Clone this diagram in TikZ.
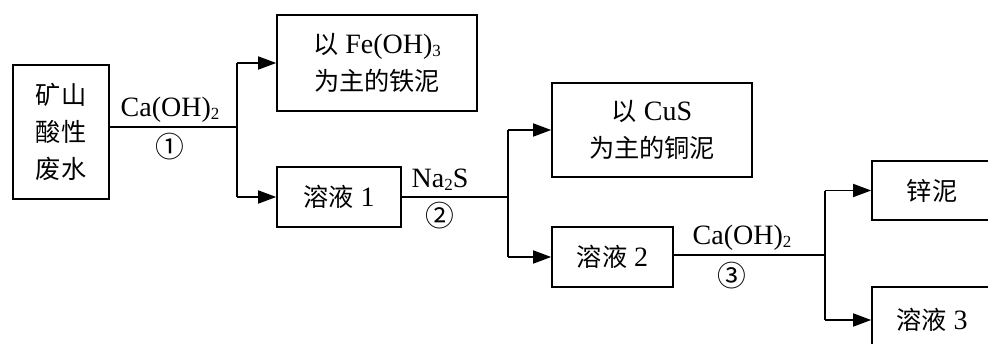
\documentclass[tikz,border=0pt]{standalone}
\usepackage{fontspec}
\setmainfont{Liberation Serif}
\newfontfamily\cjk[Scale=0.9]{Noto Sans CJK SC}
\usetikzlibrary{arrows.meta}
\newcommand{\sub}[1]{\raisebox{-0.25ex}{\fontsize{17}{17}\selectfont #1}}
\begin{document}
\begin{tikzpicture}[x=1pt,y=-1pt,
  box/.style={draw,line width=1.6pt,inner sep=0pt,align=center,font=\fontsize{28}{37}\selectfont},
  lbl/.style={inner sep=0pt,font=\fontsize{28}{30}\selectfont},
  circ/.style={inner sep=0pt,font=\fontsize{32}{32}\selectfont\cjk},
  flow/.style={line width=1.6pt},
  arr/.style={line width=1.6pt,-{Triangle[length=18pt,width=13pt]}}]
\clip (0,0) rectangle (988,343);
\node[box,minimum width=96pt,minimum height=134pt] (src) at (61,132) {\cjk 矿山\\\cjk 酸性\\\cjk 废水};
\node[box,minimum width=200pt,minimum height=96pt] (fe) at (377,63) {{\cjk 以} Fe(OH)\sub{3}\\\cjk 为主的铁泥};
\node[box,minimum width=124pt,minimum height=60pt] (s1) at (339,197) {{\cjk 溶液} 1};
\node[box,minimum width=200pt,minimum height=94pt] (cu) at (652,130) {{\cjk 以} CuS\\\cjk 为主的铜泥};
\node[box,minimum width=121pt,minimum height=60pt] (s2) at (612.5,257) {{\cjk 溶液} 2};
\node[box,minimum width=120pt,minimum height=59pt] (zn) at (932,190.5) {\cjk 锌泥};
\node[box,minimum width=120pt,minimum height=66pt] (s3) at (932,320) {{\cjk 溶液} 3};
\coordinate (j1) at (237,127);
\coordinate (j2) at (508,197);
\coordinate (j3) at (825,255);
\draw[flow] (src.east |- j1) -- (j1);
\draw[flow] (j1 |- fe) -- (j1 |- s1);
\draw[arr] (j1 |- fe) -- (fe.west);
\draw[arr] (j1 |- s1) -- (s1.west);
\draw[flow] (s1.east |- j2) -- (j2);
\draw[flow] (j2 |- cu) -- (j2 |- s2);
\draw[arr] (j2 |- cu) -- (cu.west);
\draw[arr] (j2 |- s2) -- (s2.west);
\draw[flow] (s2.east |- j3) -- (j3);
\draw[flow] (j3 |- zn) -- (j3 |- s3);
\draw[arr] (j3 |- zn) -- (zn.west);
\draw[arr] (j3 |- s3) -- (s3.west);
\node[lbl] (l1) at (170,110) {Ca(OH)\sub{2}};
\node[circ] (c1) at (170,147) {①};
\node[lbl] (l2) at (440,180) {Na\sub{2}S};
\node[circ] (c2) at (440,216) {②};
\node[lbl] (l3) at (742,238) {Ca(OH)\sub{2}};
\node[circ] (c3) at (732,276) {③};
\end{tikzpicture}
\end{document}
